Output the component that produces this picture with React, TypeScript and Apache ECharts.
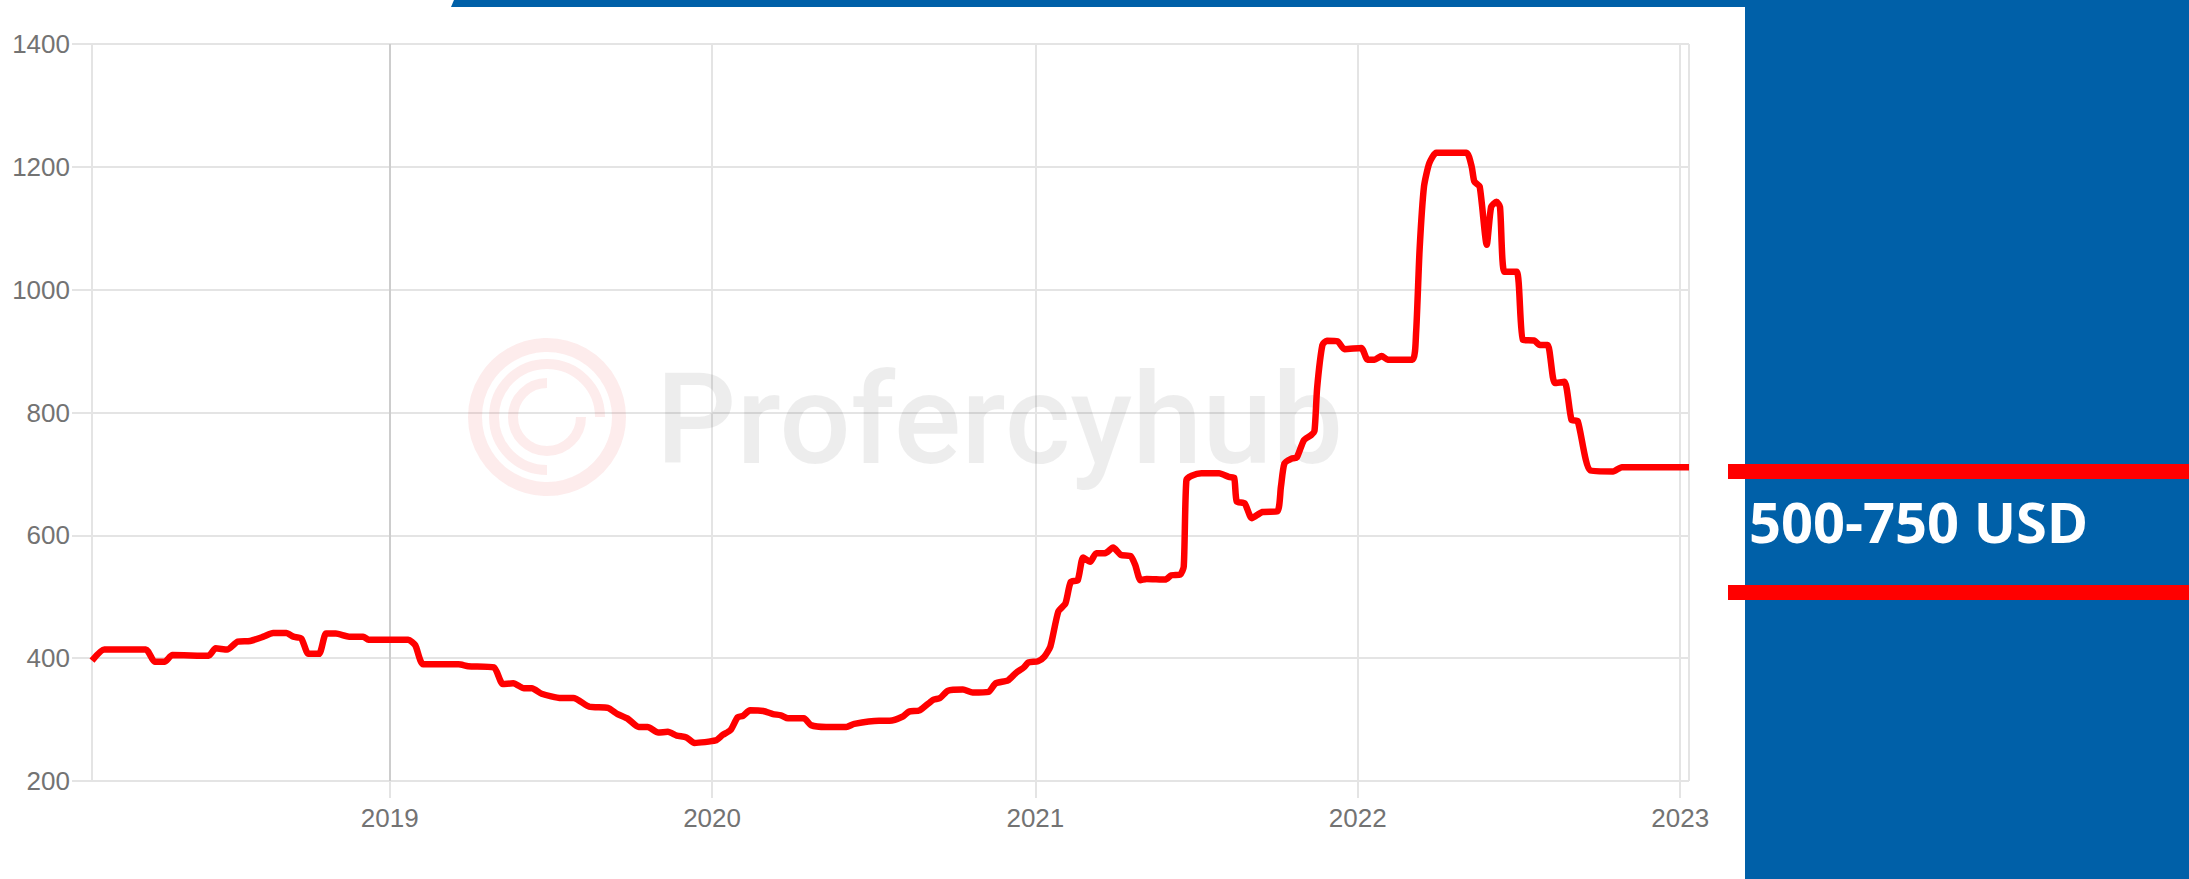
import React, { useEffect, useRef } from "react";
import * as echarts from "echarts";

// ---- data ----
const dates: string[] = [
  "2018-01-29","2018-02-12","2018-03-31","2018-04-10","2018-04-21","2018-04-30","2018-06-10","2018-06-18","2018-07-01","2018-07-13","2018-07-27","2018-08-11","2018-08-22","2018-09-06","2018-09-14","2018-09-23","2018-10-01","2018-10-13","2018-10-21","2018-11-01","2018-11-16","2018-12-02","2018-12-08",
  "2019-01-22","2019-01-30","2019-02-08","2019-03-20","2019-03-31","2019-04-29","2019-05-09","2019-05-21","2019-06-02","2019-06-11","2019-06-22","2019-07-14","2019-07-28","2019-08-15","2019-09-05","2019-09-16","2019-09-27","2019-10-10","2019-10-20","2019-11-01","2019-11-12","2019-11-22","2019-12-03","2019-12-12",
  "2020-01-05","2020-01-13","2020-01-22","2020-01-30","2020-02-05","2020-02-13","2020-02-28","2020-03-10","2020-03-19","2020-03-27","2020-04-14","2020-04-22","2020-05-09","2020-06-01","2020-06-10","2020-07-08","2020-07-20","2020-08-04","2020-08-11","2020-08-23","2020-09-07","2020-09-15","2020-09-24","2020-10-11","2020-10-22","2020-11-09","2020-11-17","2020-12-01","2020-12-10","2020-12-19","2020-12-24",
  "2021-01-04","2021-01-11","2021-01-18","2021-01-27","2021-02-04","2021-02-10","2021-02-18","2021-02-24","2021-03-04","2021-03-11","2021-03-21","2021-03-30","2021-04-08","2021-04-19","2021-04-24","2021-04-30","2021-05-07","2021-05-28","2021-06-04","2021-06-14","2021-06-18","2021-06-21","2021-06-27","2021-07-08","2021-07-28","2021-08-08","2021-08-14","2021-08-17","2021-08-26","2021-09-03","2021-09-15","2021-10-02","2021-10-06","2021-10-10","2021-10-18","2021-10-24","2021-11-01","2021-11-09","2021-11-13","2021-11-16","2021-11-22","2021-11-27","2021-12-09","2021-12-17",
  "2022-01-05","2022-01-12","2022-01-20","2022-01-28","2022-02-04","2022-03-04","2022-03-08","2022-03-12","2022-03-17","2022-03-23","2022-03-31","2022-05-04","2022-05-10","2022-05-13","2022-05-19","2022-05-27","2022-06-01","2022-06-07","2022-06-11","2022-06-16","2022-06-30","2022-07-07","2022-07-20","2022-07-26","2022-08-04","2022-08-12","2022-08-23","2022-08-31","2022-09-07","2022-09-21","2022-10-17","2022-10-27","2023-01-11",
];

const prices: number[] = [
  396,414,414,394,394,405,404,416,414,427,428,435,441,441,435,432,407,407,440,440,435,435,430,
  430,421,390,390,387,385,358,359,351,351,342,335,335,321,319,309,302,288,288,279,280,274,271,262,
  266,275,283,304,306,315,314,309,307,302,302,291,288,288,293,298,298,305,313,315,332,335,347,349,344,345,359,364,376,385,393,
  395,402,419,476,489,524,527,564,557,571,571,580,568,566,552,527,529,528,535,536,549,690,697,701,701,695,694,655,652,628,638,639,679,717,725,727,755,763,770,840,910,917,916,903,
  905,886,886,892,886,886,929,1065,1168,1206,1223,1223,1200,1176,1168,1073,1135,1143,1135,1029,1029,918,917,910,910,848,850,788,786,706,704,711,711,
];

const xMin = "2018-01-29";
const xMax = "2023-01-11";
const yMin = 200;
const yMax = 1400;
const yStep = 200;
const rangeLabel = "500-750 USD";
const watermark = "Profercyhub";

const BLUE = "#0060A8";
const GRID = "#e4e4e4";
const DARK_GRID = "#cdcdcd";
const LABEL = "#737373";

export default function App() {
  const ref = useRef<HTMLDivElement>(null);

  useEffect(() => {
    if (!ref.current) return;
    const chart = echarts.init(ref.current, undefined, { renderer: "svg" });
    const pink = "rgba(235,40,40,0.09)";
    const option: any = {
      animation: false,
      backgroundColor: "#ffffff",
      grid: { left: 92, top: 44, right: 500, bottom: 98, containLabel: false },
      xAxis: {
        type: "time",
        min: xMin,
        max: xMax,
        minInterval: 365 * 24 * 3600 * 1000,
        maxInterval: 366 * 24 * 3600 * 1000,
        axisLine: { show: false },
        axisTick: { show: true, length: 17, lineStyle: { color: GRID, width: 2 } },
        axisLabel: {
          formatter: "{yyyy}",
          color: LABEL,
          fontSize: 26,
          fontFamily: "Liberation Sans",
          margin: 24,
          showMinLabel: false,
          showMaxLabel: false,
        },
        splitLine: { show: true, lineStyle: { color: [GRID, DARK_GRID, GRID, GRID, GRID, GRID], width: 2 } },
      },
      yAxis: {
        type: "value",
        min: yMin,
        max: yMax,
        interval: yStep,
        axisLine: { show: true, lineStyle: { color: GRID, width: 2 } },
        axisTick: { show: true, length: 20, lineStyle: { color: GRID, width: 2 } },
        axisLabel: {
          color: LABEL,
          fontSize: 26,
          fontFamily: "Liberation Sans",
          margin: 22,
          formatter: (v: number) => String(v),
        },
        splitLine: { show: true, lineStyle: { color: GRID, width: 2 } },
      },
      series: [
        {
          type: "line",
          data: dates.map((d, i) => [d, prices[i]]),
          showSymbol: false,
          smooth: 0.2,
          lineStyle: { color: "#ff0000", width: 6.5 },
          z: 5,
        },
      ],
      graphic: [
        // watermark logo
        { type: "arc", z: 1, shape: { cx: 547, cy: 417, r: 72, startAngle: 0, endAngle: Math.PI * 2 }, style: { stroke: pink, lineWidth: 14, fill: "none" } },
        { type: "arc", z: 1, shape: { cx: 547, cy: 417, r: 53, startAngle: Math.PI / 2, endAngle: Math.PI * 2 }, style: { stroke: pink, lineWidth: 10, fill: "none" } },
        { type: "arc", z: 1, shape: { cx: 547, cy: 417, r: 34, startAngle: 0, endAngle: Math.PI * 1.5 }, style: { stroke: pink, lineWidth: 10, fill: "none" } },
        {
          type: "text",
          z: 1,
          style: {
            text: watermark,
            x: 656,
            y: 420,
            font: "500 126px Roboto",
            fill: "rgba(0,0,0,0.07)",
            textAlign: "left",
            textVerticalAlign: "middle",
          },
        },
        // top blue bar
        { type: "polygon", z: 50, shape: { points: [[451, 7], [454, 0], [1745, 0], [1745, 7]] }, style: { fill: BLUE } },
        // right panel
        { type: "rect", z: 50, shape: { x: 1745, y: 0, width: 444, height: 879 }, style: { fill: BLUE } },
        { type: "rect", z: 51, shape: { x: 1728, y: 464, width: 461, height: 15 }, style: { fill: "#ff0000" } },
        { type: "rect", z: 51, shape: { x: 1728, y: 585, width: 461, height: 15 }, style: { fill: "#ff0000" } },
        {
          type: "text",
          z: 52,
          style: {
            text: rangeLabel,
            x: 1749,
            y: 521,
            font: "bold 56px 'Open Sans'",
            fill: "#ffffff",
            textAlign: "left",
            textVerticalAlign: "middle",
          },
        },
      ],
    };
    chart.setOption(option);
    return () => chart.dispose();
  }, []);

  return (
    <div
      ref={ref}
      style={{ position: "absolute", left: 0, top: 0, width: 2189, height: 879, background: "#fff" }}
    />
  );
}
